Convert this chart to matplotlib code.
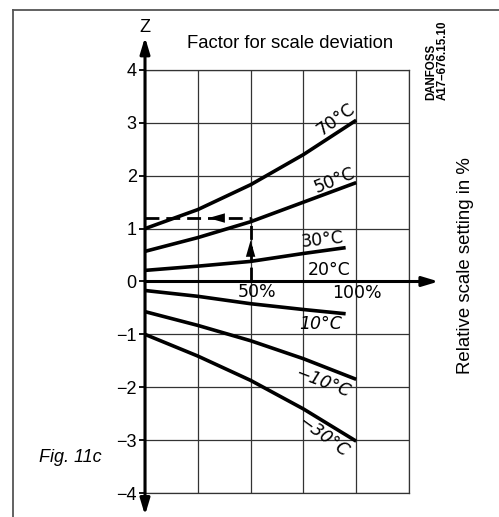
import matplotlib
matplotlib.use('Agg')
import matplotlib.pyplot as plt
import numpy as np

# relative scale setting in %, and factor Z
setting = [0, 25, 50, 75, 100]
z_70 = [1.0, 1.36, 1.83, 2.40, 3.05]
z_50 = [0.57, 0.83, 1.13, 1.50, 1.87]
z_30 = [0.21, 0.29, 0.38, 0.53, 0.64]
z_10 = [-0.17, -0.28, -0.42, -0.53, -0.61]
z_m10 = [-0.57, -0.83, -1.12, -1.46, -1.85]
z_m30 = [-1.0, -1.41, -1.87, -2.41, -3.02]
setting_short = [0, 25, 50, 75, 95]

y_ticks = [-4, -3, -2, -1, 0, 1, 2, 3, 4]
x_grid = [0, 25, 50, 75, 100, 125]
example_z = 1.2
example_x = 50

W, H = 499, 517
fig = plt.figure(figsize=(W / 100, H / 100), dpi=100)

def fx(px):
	return px / W

def fy(py):
	return 1 - py / H

ax = fig.add_axes([fx(145), fy(493), (409 - 145) / W, (493 - 70) / H])
ax.set_xlim(0, 125)
ax.set_ylim(-4, 4)
ax.set_xticks(x_grid)
ax.set_yticks(y_ticks)
ax.set_xticklabels([])
ax.set_yticklabels([str(v).replace('-', '\u2212') for v in y_ticks],
	family='Liberation Sans', fontsize=13)
ax.tick_params(axis='x', length=0)
ax.tick_params(axis='y', length=4, width=1.3, pad=2, color='black')
ax.grid(True, color='#333333', lw=0.9)
ax.set_axisbelow(True)
for s in ['top', 'right', 'bottom']:
	ax.spines[s].set_color('#333333')
	ax.spines[s].set_linewidth(0.9)
ax.spines['left'].set_visible(False)

# axes arrows
ax.annotate('', xy=(0, 4.62), xytext=(0, -4.42), annotation_clip=False,
	arrowprops=dict(arrowstyle='<|-|>,head_length=0.6,head_width=0.18', lw=2.2, color='black',
		mutation_scale=16, shrinkA=0, shrinkB=0))
ax.annotate('', xy=(139, 0), xytext=(0, 0), annotation_clip=False,
	arrowprops=dict(arrowstyle='-|>,head_length=0.6,head_width=0.18', lw=2.2, color='black',
		mutation_scale=16, shrinkA=0, shrinkB=0))

# curves
lw = 2.6
for xs, ys in [(setting, z_70), (setting, z_50), (setting_short, z_30),
		(setting_short, z_10), (setting, z_m10), (setting, z_m30)]:
	ax.plot(xs, ys, color='black', lw=lw, solid_capstyle='butt', clip_on=False)

# example reading, dashed with arrows
ax.plot([0, example_x], [example_z, example_z], color='black', lw=2, dashes=(5, 2.5), clip_on=False)
ax.plot([example_x, example_x], [0, example_z], color='black', lw=2, dashes=(5, 2.5), clip_on=False)
small = '-|>,head_length=0.7,head_width=0.2'
ax.annotate('', xy=(30, example_z), xytext=(38, example_z),
	arrowprops=dict(arrowstyle=small, lw=0, color='black', mutation_scale=17, shrinkA=0, shrinkB=0))
ax.annotate('', xy=(example_x, 0.78), xytext=(example_x, 0.4),
	arrowprops=dict(arrowstyle=small, lw=0, color='black', mutation_scale=17, shrinkA=0, shrinkB=0))

# curve labels
lab = dict(family='DejaVu Sans', fontsize=12.5, ha='center', va='center', rotation_mode='anchor')
ax.text(90.6, 3.06, '70°C', rotation=36, **lab)
ax.text(89.6, 1.92, '50°C', rotation=22, **lab)
ax.text(84, 0.79, '30°C', rotation=6, **lab)
ax.text(87, 0.22, '20°C', **lab)
ax.text(83, -0.81, '10°C', style='italic', **lab)
ax.text(84, -1.92, '\u221210°C', rotation=-21, style='italic', **lab)
ax.text(84.5, -2.94, '\u221230°C', rotation=-36, style='italic', **lab)
ax.text(53, -0.19, '50%', **lab)
ax.text(100.5, -0.21, '100%', **lab)

# frame and outer texts
fig.add_artist(plt.Line2D([fx(13), fx(499)], [fy(10), fy(10)], color='#555555', lw=1.3))
fig.add_artist(plt.Line2D([fx(13), fx(13)], [fy(10), fy(517)], color='#555555', lw=1.3))
fig.text(fx(145), fy(28), 'Z', family='Liberation Sans', fontsize=13, ha='center', va='center')
fig.text(fx(290), fy(44), 'Factor for scale deviation', family='Liberation Sans', fontsize=13.3,
	ha='center', va='center')
fig.text(fx(466), fy(266), 'Relative scale setting in %', family='Liberation Sans', fontsize=13.4,
	ha='center', va='center', rotation=90)
fig.text(fx(70), fy(458), 'Fig. 11c', family='Liberation Sans', fontsize=13, style='italic',
	ha='center', va='center')
fig.text(fx(437), fy(100), 'DANFOSS\nA17\u2013676.15.10', family=['Liberation Sans Narrow', 'Liberation Sans'],
	fontsize=8.3, weight='bold', rotation=90, rotation_mode='anchor', ha='left', va='center',
	linespacing=1.0)

plt.savefig('out.png', dpi=100)
